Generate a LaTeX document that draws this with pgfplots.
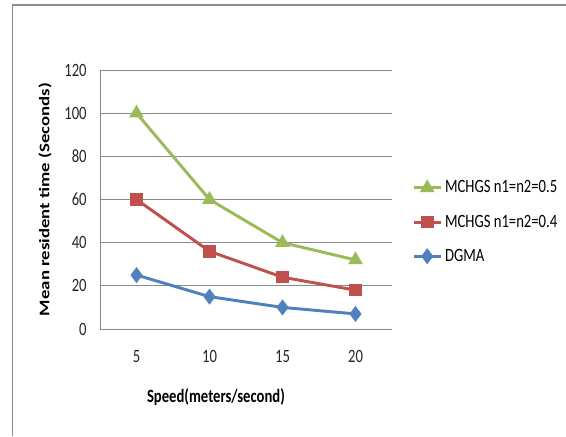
\documentclass[border=0pt]{standalone}
\usepackage{graphicx}
\usepackage{pgfplots}
\pgfplotsset{compat=1.18}
\usepackage{fontspec}
\setmainfont{Carlito}
\definecolor{cgreen}{HTML}{9BBB59}
\definecolor{cred}{HTML}{C0504D}
\definecolor{cblue}{HTML}{4F81BD}
\definecolor{cgrid}{HTML}{8A8A8A}
\newcommand{\vs}[1]{\scalebox{1}[1.28]{#1}}
\begin{document}
\begin{tikzpicture}
\useasboundingbox (0,0) rectangle (424.5pt,327pt);
\fill[white] (0,0) rectangle (424.5pt,327pt);
\draw[color=black!45, line width=1.1pt] (9.4pt,0) -- (9.4pt,323.25pt) -- (424.5pt,323.25pt);
\begin{axis}[
  at={(75pt,80.25pt)}, anchor=south west, scale only axis,
  width=219pt, height=194.25pt,
  xmin=2.5, xmax=22.5, ymin=0, ymax=120,
  xtick={5,10,15,20}, ytick={0,20,...,120},
  ymajorgrids, grid style={cgrid, line width=0.75pt},
  axis x line*=bottom, axis y line*=left,
  axis line style={cgrid, line width=0.75pt, -},
  major tick length=0pt,
  /pgf/number format/assume math mode=true,
  tick label style={font=\fontsize{11}{12}\selectfont, text=black!85},
  xticklabel={\vs{\pgfmathprintnumber{\tick}}},
  yticklabel={\vs{\pgfmathprintnumber{\tick}}},
  xticklabel style={yshift=-12.5pt},
  yticklabel style={xshift=-6.5pt},
  xlabel={\vs{Speed(meters/second)}},
  ylabel={\scalebox{1.28}[1]{Mean resident time (Seconds)}},
  label style={font=\fontsize{11}{12}\selectfont\bfseries},
  xlabel style={at={(axis description cs:0.397,-0.2625)}, anchor=center},
  ylabel style={at={(axis description cs:-0.188,0.5)}, anchor=center},
  legend style={at={(axis description cs:1.068,0.413)}, anchor=west, draw=none, fill=none,
    font=\fontsize{11}{12}\selectfont, row sep=11pt, inner sep=0pt},
  legend cell align=left,
  legend image code/.code={\draw[mark repeat=2,mark phase=2] plot coordinates {(0cm,0cm)(0.36cm,0cm)(0.72cm,0cm)};},
  clip=false,
]
\addplot[cgreen, line width=2.2pt, mark=triangle*, mark size=4.2pt, mark options={solid}] coordinates {(5,100) (10,60) (15,40) (20,32)};
\addlegendentry{\vs{MCHGS n1=n2=0.5}}
\addplot[cred, line width=2.2pt, mark=square*, mark size=3.6pt] coordinates {(5,60) (10,36) (15,24) (20,18)};
\addlegendentry{\vs{MCHGS n1=n2=0.4}}
\addplot[cblue, line width=2.2pt, mark=diamond*, mark size=4.2pt] coordinates {(5,25) (10,15) (15,10) (20,7)};
\addlegendentry{\vs{DGMA}}
\end{axis}
\end{tikzpicture}
\end{document}
